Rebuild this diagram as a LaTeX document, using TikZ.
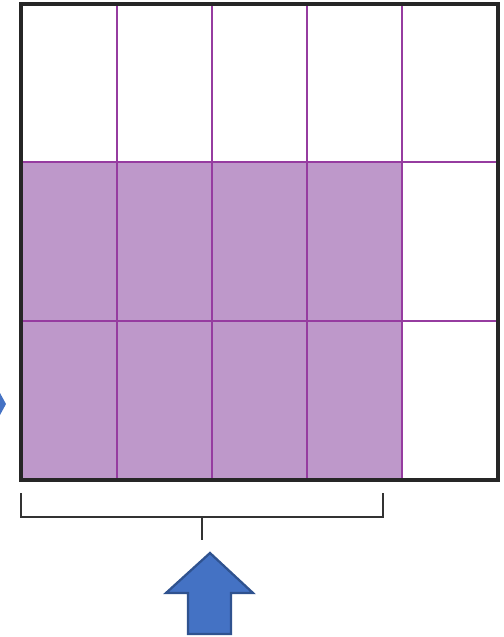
\documentclass[tikz,border=0pt]{standalone}
\usepackage{tikz}
\usetikzlibrary{positioning, calc}
\definecolor{gridpurple}{RGB}{150, 60, 160}
\definecolor{shadepurple}{RGB}{190, 152, 202}
\definecolor{officeblue}{RGB}{68, 114, 196}
\definecolor{officeedge}{RGB}{47, 82, 143}

\begin{document}
\begin{tikzpicture}[x=0.02cm, y=-0.02cm,
    gridline/.style={draw=gridpurple, line width=1.4pt},
    frame/.style={draw=black!85, line width=2.2pt},
    bracket/.style={draw=black!80, line width=1pt},
    bluearrow/.style={fill=officeblue, draw=officeedge, line width=1.3pt, line join=miter}]
    \useasboundingbox (0, 0) rectangle (504, 637);

    % Shaded part of the square
    \fill[shadepurple] (21, 162) rectangle (402, 480);

    % Grid lines
    \foreach \gx in {117, 212, 307, 402}
        \draw[gridline] (\gx, 4) -- (\gx, 480);
    \foreach \gy in {162, 321}
        \draw[gridline] (21, \gy) -- (498, \gy);

    % Outer square
    \draw[frame] (21, 4) rectangle (498, 480);

    % Bracket under the shaded columns
    \coordinate (bl) at (21, 493);
    \coordinate (br) at (383, 493);
    \coordinate (bm) at (202, 517);
    \coordinate (bt) at (202, 540);
    \draw[bracket] (bl) |- (br |- bm) -- (br);
    \draw[bracket] (bm) -- (bt);

    % Arrow pointing up
    \draw[bluearrow] (210, 553) -- (253, 593) -- (231, 593) -- (231, 634)
        -- (188, 634) -- (188, 593) -- (166, 593) -- cycle;

    % Tip of an arrow at the left edge
    \fill[officeblue] (0, 393) -- (6, 404) -- (0, 415) -- cycle;
\end{tikzpicture}
\end{document}
